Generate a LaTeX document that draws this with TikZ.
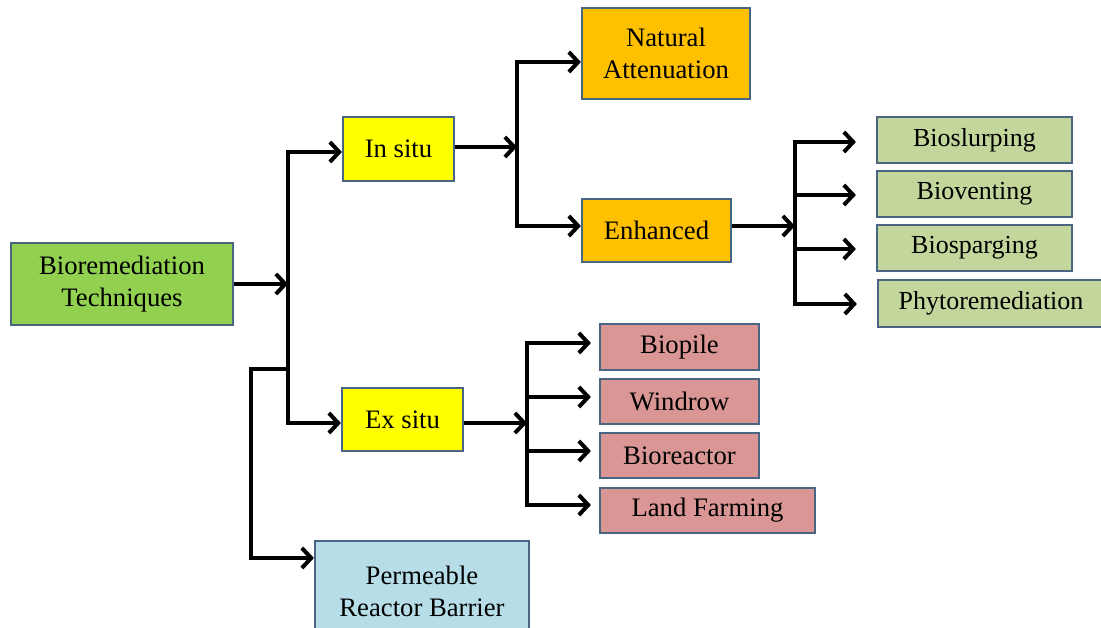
\documentclass[tikz,border=0pt]{standalone}
\usepackage{fontspec}
\setmainfont{Liberation Serif}
\usetikzlibrary{arrows.meta}
\definecolor{bordc}{HTML}{4A6584}
\definecolor{cgreen}{HTML}{92D050}
\definecolor{cyellow}{HTML}{FFFF00}
\definecolor{corange}{HTML}{FFC000}
\definecolor{clgreen}{HTML}{C3D69B}
\definecolor{cpink}{HTML}{D99694}
\definecolor{cblue}{HTML}{B7DEE8}
\begin{document}
\begin{tikzpicture}[x=0.75pt,y=-0.75pt,
  box/.style={draw=bordc, line width=1.6pt, inner sep=0pt, align=center, text=black,
    font=\fontsize{20}{24}\selectfont},
  smallbox/.style={box, font=\fontsize{19.5}{23}\selectfont},
  sz/.style 2 args={minimum width=#1*0.75pt, minimum height=#2*0.75pt},
  ln/.style={line width=3pt, line join=miter, draw=black},
  arr/.style={ln, -{Straight Barb[length=7pt,width=15pt]}},
  arrtwo/.style={ln, {Straight Barb[length=7pt,width=15pt]}-{Straight Barb[length=7pt,width=15pt]}},
]
\useasboundingbox (0,0) rectangle (1101,628);

% nodes
\node[box, fill=cgreen, sz={222}{82}] (bio) at (122,284) {Bioremediation\\Techniques};
\node[box, fill=cyellow, sz={111}{64}] (insitu) at (398.5,149) {In situ};
\node[box, fill=cyellow, sz={121}{63}] (exsitu) at (402.5,419.5) {Ex situ};
\node[box, fill=cblue, sz={214}{100}] (prb) at (422,591) {Permeable\\Reactor Barrier};
\node[box, fill=corange, sz={168}{91}] (nat) at (666,53.5) {Natural\\Attenuation};
\node[box, fill=corange, sz={149}{63}] (enh) at (656.5,230.5) {Enhanced};

\node[smallbox, fill=clgreen, sz={195}{46}] (bsl) at (974.5,140) {Bioslurping};
\node[smallbox, fill=clgreen, sz={195}{46}] (bvent) at (974.5,194) {Bioventing};
\node[smallbox, fill=clgreen, sz={195}{46}] (bspar) at (974.5,248) {Biosparging};
\node[smallbox, fill=clgreen, sz={226}{47}] (phyto) at (991,303.5) {Phytoremediation};

\node[box, fill=cpink, sz={159}{46}] (biopile) at (679.5,347) {Biopile};
\node[box, fill=cpink, sz={159}{45}] (windrow) at (679.5,401.5) {Windrow};
\node[box, fill=cpink, sz={159}{45}] (bioreac) at (679.5,455.5) {Bioreactor};
\node[box, fill=cpink, sz={215}{45}] (land) at (707.5,510.5) {Land Farming};

% junction coordinates
\coordinate (j1) at (288,284);
\coordinate (a1) at (288,152);
\coordinate (a2) at (288,423);
\coordinate (b1) at (288,369);
\coordinate (b2) at (251,369);
\coordinate (b3) at (251,558);
\coordinate (c0) at (517,147);
\coordinate (c1) at (517,62);
\coordinate (c2) at (517,226);
\coordinate (e0) at (795,226);
\coordinate (e1) at (795,142);
\coordinate (e2) at (795,195);
\coordinate (e3) at (795,249);
\coordinate (e4) at (795,304);
\coordinate (d0) at (527,423);
\coordinate (d1) at (527,343);
\coordinate (d2) at (527,397);
\coordinate (d3) at (527,451);
\coordinate (d4) at (527,505);

% connectors
\draw[arr] (bio) -- (j1);
\draw[arrtwo] (insitu.west |- a1) -- (a1) -- (a2) -- (exsitu.west |- a2);
\draw[arr] (b1) -- (b2) -- (b3) -- (b3 -| prb.west);

\draw[arr] (insitu.east |- c0) -- (c0);
\draw[arrtwo] (nat.west |- c1) -- (c1) -- (c2) -- (enh.west |- c2);

\draw[arr] (enh.east |- e0) -- (e0);
\draw[arrtwo, shorten <=15pt, shorten >=15pt] (bsl.west |- e1) -- (e1) -- (e4) -- (phyto.west |- e4);
\draw[arr, shorten >=15pt] (e2) -- (e2 -| bvent.west);
\draw[arr, shorten >=15pt] (e3) -- (e3 -| bspar.west);

\draw[arr] (exsitu.east |- d0) -- (d0);
\draw[arrtwo, shorten <=6pt, shorten >=6pt] (biopile.west |- d1) -- (d1) -- (d4) -- (land.west |- d4);
\draw[arr, shorten >=6pt] (d2) -- (d2 -| windrow.west);
\draw[arr, shorten >=6pt] (d3) -- (d3 -| bioreac.west);
\end{tikzpicture}
\end{document}
